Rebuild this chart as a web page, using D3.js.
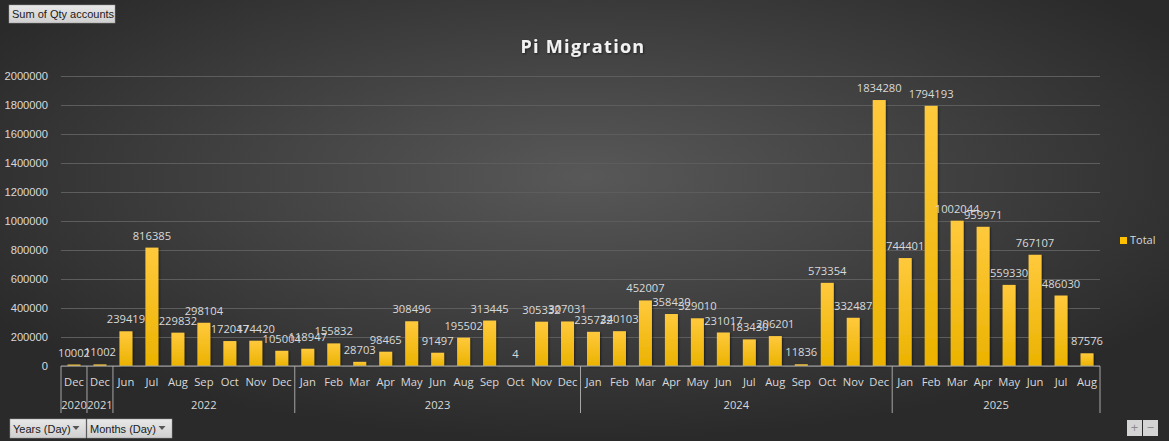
<!DOCTYPE html>
<html>
<head>
<meta charset="utf-8">
<style>
  body { margin: 0; background: #2b2b2b; overflow: hidden; }
  svg { display: block; font-family: "Open Sans", "Noto Sans", sans-serif; }
</style>
<title>Pi Migration</title>
</head>
<body>
<script src="https://cdn.jsdelivr.net/npm/d3@7/dist/d3.min.js"></script>
<script>

// data ///////////////////////////////////////////////////////////////////

var years  = ["2020", "2021",
  "2022","2022","2022","2022","2022","2022","2022",
  "2023","2023","2023","2023","2023","2023","2023","2023","2023","2023","2023",
  "2024","2024","2024","2024","2024","2024","2024","2024","2024","2024","2024","2024",
  "2025","2025","2025","2025","2025","2025","2025","2025"];

var months = ["Dec", "Dec",
  "Jun","Jul","Aug","Sep","Oct","Nov","Dec",
  "Jan","Feb","Mar","Apr","May","Jun","Aug","Sep","Oct","Nov","Dec",
  "Jan","Feb","Mar","Apr","May","Jun","Jul","Aug","Sep","Oct","Nov","Dec",
  "Jan","Feb","Mar","Apr","May","Jun","Jul","Aug"];

var totals = [10002, 11002,
  239419, 816385, 229832, 298104, 172047, 174420, 105004,
  118947, 155832, 28703, 98465, 308496, 91497, 195502, 313445, 4, 305332, 307031,
  235732, 240103, 452007, 358420, 329010, 231017, 183430, 206201, 11836, 573354, 332487, 1834280,
  744401, 1794193, 1002044, 959971, 559330, 767107, 486030, 87576];

var yTicks = [0, 200000, 400000, 600000, 800000, 1000000, 1200000, 1400000, 1600000, 1800000, 2000000];

var W = 1169, H = 441;
var plot = {left: 61, right: 1100, top: 76, bottom: 366};

// svg ////////////////////////////////////////////////////////////////////

var svg = d3.select("body").append("svg")
    .attr("width", W)
    .attr("height", H);

var defs = svg.append("defs");

var bg = defs.append("radialGradient")
    .attr("id", "bg")
    .attr("cx", "50%").attr("cy", "40%").attr("r", "60%");
bg.append("stop").attr("offset", "0%").attr("stop-color", "#585858");
bg.append("stop").attr("offset", "100%").attr("stop-color", "#2a2a2a");

var barGrad = defs.append("linearGradient")
    .attr("id", "bar")
    .attr("x1", 0).attr("y1", 0).attr("x2", 0).attr("y2", 1);
barGrad.append("stop").attr("offset", "0%").attr("stop-color", "#ffc93d");
barGrad.append("stop").attr("offset", "100%").attr("stop-color", "#ebb300");

var btnGrad = defs.append("linearGradient")
    .attr("id", "btn")
    .attr("x1", 0).attr("y1", 0).attr("x2", 0).attr("y2", 1);
btnGrad.append("stop").attr("offset", "0%").attr("stop-color", "#e8e8e8");
btnGrad.append("stop").attr("offset", "100%").attr("stop-color", "#cfcfcf");

var shadow = defs.append("filter").attr("id", "shadow")
    .attr("x", "-20%").attr("y", "-20%").attr("width", "160%").attr("height", "160%");
shadow.append("feDropShadow")
    .attr("dx", 1).attr("dy", 1).attr("stdDeviation", 1.2)
    .attr("flood-color", "#000").attr("flood-opacity", 0.5);

svg.append("rect")
    .attr("width", W).attr("height", H)
    .attr("fill", "url(#bg)");

// scales ///////////////////////////////////////////////////////////////

var x = d3.scaleBand()
    .domain(d3.range(totals.length))
    .range([plot.left, plot.right])
    .paddingInner(0.5)
    .paddingOuter(0.25);

var xStep = (plot.right - plot.left) / totals.length;

var y = d3.scaleLinear()
    .domain([0, 2000000])
    .range([plot.bottom, plot.top]);

// gridlines + y axis
var yAxis = svg.append("g")
    .attr("transform", `translate(${plot.left},0)`)
    .call(d3.axisLeft(y).tickValues(yTicks).tickSize(-(plot.right - plot.left)).tickPadding(13).tickFormat(d3.format("d")));
yAxis.select(".domain").remove();
yAxis.selectAll(".tick line")
    .attr("stroke", "#5d5d5d")
    .attr("stroke-width", 1);
yAxis.selectAll(".tick text")
    .attr("fill", "#d9d9d9")
    .attr("font-size", 11.2);

// title
svg.append("text")
    .attr("x", 583).attr("y", 53)
    .attr("text-anchor", "middle")
    .attr("font-size", 18)
    .attr("font-weight", "bold")
    .attr("letter-spacing", 1.3)
    .attr("fill", "#f2f2f2")
    .attr("filter", "url(#shadow)")
    .text("Pi Migration");

// bars
svg.append("g")
  .selectAll("rect")
  .data(totals)
  .join("rect")
    .attr("x", (d, i) => x(i))
    .attr("width", x.bandwidth())
    .attr("y", d => y(d))
    .attr("height", d => y(0) - y(d))
    .attr("fill", "url(#bar)")
    .attr("filter", "url(#shadow)");

// data labels
svg.append("g")
  .selectAll("text")
  .data(totals)
  .join("text")
    .attr("x", (d, i) => x(i) + x.bandwidth() / 2)
    .attr("y", d => y(d) - 8)
    .attr("text-anchor", "middle")
    .attr("font-size", 11.2)
    .attr("fill", "#d9d9d9")
    .text(d => d);

// category axis
svg.append("line")
    .attr("x1", plot.left).attr("x2", plot.right)
    .attr("y1", plot.bottom).attr("y2", plot.bottom)
    .attr("stroke", "#a6a6a6");

svg.append("g")
  .selectAll("text")
  .data(months)
  .join("text")
    .attr("x", (d, i) => x(i) + x.bandwidth() / 2)
    .attr("y", 386)
    .attr("text-anchor", "middle")
    .attr("font-size", 11.2)
    .attr("fill", "#d9d9d9")
    .text(d => d);

// year groups
var groups = [];
years.forEach((yr, i) => {
  var last = groups[groups.length - 1];
  if (last && last.year === yr) last.end = i;
  else groups.push({year: yr, start: i, end: i});
});

var sepX = [plot.left].concat(groups.map(g => plot.left + (g.end + 1) * xStep));
svg.append("g")
  .selectAll("line")
  .data(sepX)
  .join("line")
    .attr("x1", d => d).attr("x2", d => d)
    .attr("y1", plot.bottom).attr("y2", 413)
    .attr("stroke", "#a6a6a6");

svg.append("g")
  .selectAll("text")
  .data(groups)
  .join("text")
    .attr("x", g => plot.left + (g.start + g.end + 1) / 2 * xStep)
    .attr("y", 409)
    .attr("text-anchor", "middle")
    .attr("font-size", 11.2)
    .attr("fill", "#d9d9d9")
    .text(g => g.year);

// legend
svg.append("rect")
    .attr("x", 1120).attr("y", 237)
    .attr("width", 7).attr("height", 7)
    .attr("fill", "#ffc000");
svg.append("text")
    .attr("x", 1130).attr("y", 244)
    .attr("font-size", 11)
    .attr("fill", "#d9d9d9")
    .text("Total");

// pivot buttons
function button(bx, by, bw, bh, label, arrow) {
  var g = svg.append("g");
  g.append("rect")
      .attr("x", bx).attr("y", by)
      .attr("width", bw).attr("height", bh)
      .attr("fill", "url(#btn)")
      .attr("stroke", "#9a9a9a")
      .attr("stroke-width", 0.5);
  g.append("text")
      .attr("x", bx + 3).attr("y", by + bh / 2 + 4)
      .attr("font-family", "'Liberation Sans', Arial, sans-serif")
      .attr("font-size", 11)
      .attr("fill", "#1a1a1a")
      .text(label);
  if (arrow) {
    var ax = bx + bw - 10, ay = by + bh / 2 - 1;
    g.append("path")
        .attr("d", `M${ax - 3.5},${ay - 1.5}L${ax + 3.5},${ay - 1.5}L${ax},${ay + 2.5}Z`)
        .attr("fill", "#555");
  }
}
button(9, 5, 106, 18, "Sum of Qty accounts", false);
button(10, 419, 76, 19, "Years (Day)", true);
button(87, 419, 85, 19, "Months (Day)", true);

// zoom buttons
[["+", 1127], ["\u2212", 1143]].forEach(b => {
  svg.append("rect")
      .attr("x", b[1]).attr("y", 420)
      .attr("width", 15).attr("height", 16)
      .attr("fill", "#d4d4d4");
  svg.append("text")
      .attr("x", b[1] + 7.5).attr("y", 432)
      .attr("text-anchor", "middle")
      .attr("font-size", 13)
      .attr("fill", "#8a8a8a")
      .text(b[0]);
});

</script>
</body>
</html>
